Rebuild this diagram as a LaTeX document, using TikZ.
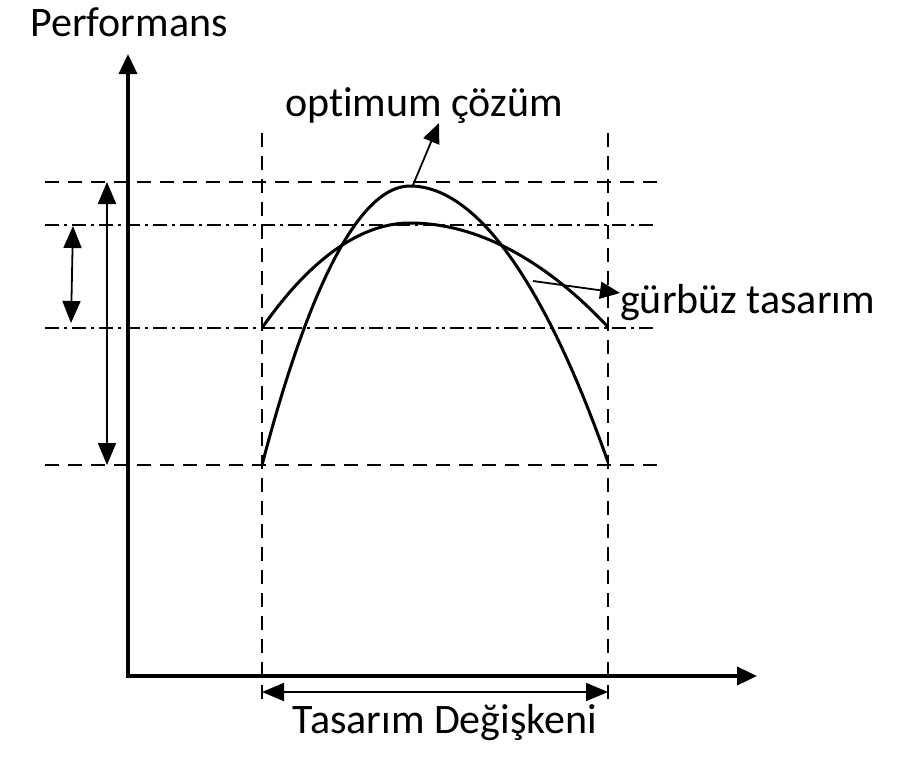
\documentclass[tikz,border=0pt]{standalone}
\usepackage{fontspec}
\setmainfont[RawFeature=-liga]{Carlito}
\usetikzlibrary{arrows.meta}
\begin{document}
\begin{tikzpicture}[x=1pt,y=-1pt,
  axis/.style={line width=3.5pt,-{Triangle[length=20pt,width=18pt]}},
  guide/.style={line width=1.6pt,dash pattern=on 14pt off 9pt},
  guidedot/.style={line width=1.6pt,dash pattern=on 14pt off 5pt on 3pt off 5pt},
  curve/.style={line width=3pt},
  dbl/.style={line width=1.8pt,{Triangle[length=22pt,width=18pt]}-{Triangle[length=22pt,width=18pt]}},
  ptr/.style={line width=1.8pt,-{Triangle[length=20pt,width=17pt]}},
  lbl/.style={font=\fontsize{42}{50}\selectfont,inner sep=0pt}]
\useasboundingbox (0,0) rectangle (903,756);
% axes
\coordinate (O) at (128,676);
\coordinate (Ytop) at (128,54);
\coordinate (Xend) at (757,676);
\draw[axis] (128,678) -- (Ytop);
\draw[axis] (126,676) -- (Xend);
% vertical guides
\coordinate (vl1) at (262,133); \coordinate (vl2) at (262,702);
\coordinate (vr1) at (608,133); \coordinate (vr2) at (608,702);
\draw[guide] (vl1) -- (vl2);
\draw[guide] (vr1) -- (vr2);
% horizontal guides
\coordinate (h1a) at (45,182); \coordinate (h1b) at (657,182);
\coordinate (h2a) at (45,225); \coordinate (h2b) at (657,225);
\coordinate (h3a) at (45,328); \coordinate (h3b) at (657,328);
\coordinate (h4a) at (45,465); \coordinate (h4b) at (657,465);
\draw[guide] (h1a) -- (h1b);
\draw[guidedot] (h2a) -- (h2b);
\draw[guidedot] (h3a) -- (h3b);
\draw[guide] (h4a) -- (h4b);
% left range arrows
\coordinate (a1) at (107,182); \coordinate (a2) at (107,465);
\coordinate (b1) at (73,226); \coordinate (b2) at (71,323);
\draw[dbl] (a1) -- (a2);
\draw[dbl] (b1) -- (b2);
% curves
\coordinate (oL) at (262,465); \coordinate (oP) at (410,186); \coordinate (oR) at (608,462);
\coordinate (rL) at (262,328); \coordinate (rP) at (410,223); \coordinate (rR) at (608,327);
\draw[curve] (oL) parabola bend (oP) (oR);
\draw[curve] (rL) parabola bend (rP) (rR);
% labels
\node[lbl] (perf) at (129,22) {Performans};
\node[lbl] (opt) at (424,106) {optimum çözüm};
\node[lbl,anchor=west] (gur) at (620,303) {gürbüz tasarım};
\node[lbl] (tas) at (445,723) {Tasarım Değişkeni};
% pointers
\coordinate (optS) at (413,185);
\coordinate (optE) at (439,123);
\draw[ptr] (optS) -- (optE);
\coordinate (gS) at (533,281);
\coordinate (gE) at (620,293);
\draw[ptr] (gS) -- (gE);
% bottom range
\coordinate (c1) at (262,692); \coordinate (c2) at (608,692);
\draw[dbl] (c1) -- (c2);
\end{tikzpicture}
\end{document}
